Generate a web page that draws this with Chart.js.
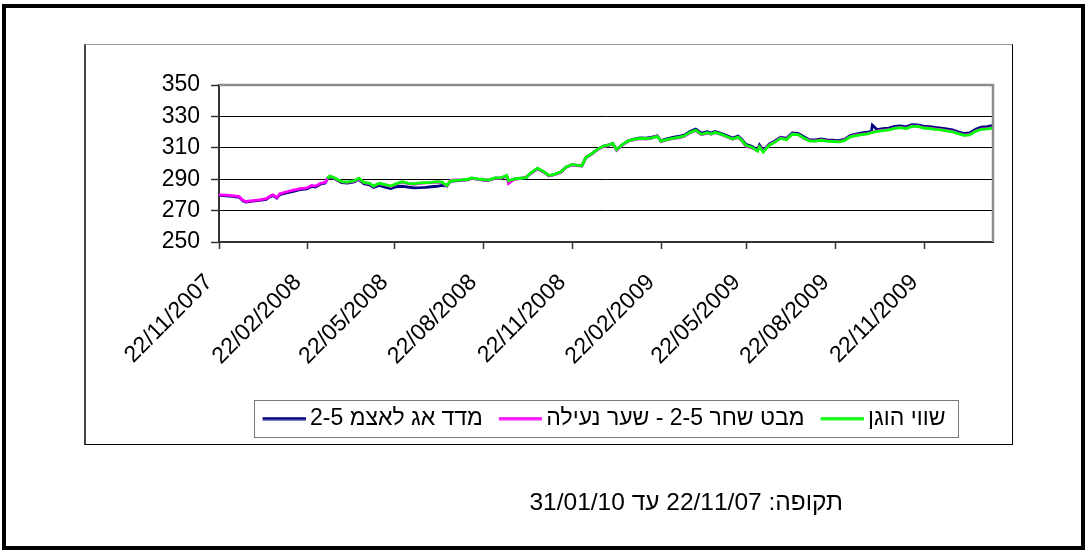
<!DOCTYPE html>
<html><head><meta charset="utf-8">
<script src="https://cdn.jsdelivr.net/npm/chart.js@4.4.1/dist/chart.umd.min.js"></script>
<style>
html,body{margin:0;padding:0;background:#fff;}
body{width:1087px;height:550px;position:relative;overflow:hidden;font-family:"Liberation Sans",Arial,sans-serif;}
#outer{position:absolute;left:2px;top:4px;width:1083px;height:546px;border:4px solid #000;box-sizing:border-box;}
#inner{position:absolute;left:84px;top:44px;width:929px;height:401px;box-sizing:border-box;border-left:2px solid #444;border-top:1px solid #999;border-right:1px solid #000;border-bottom:1px solid #000;}
#c{position:absolute;left:0;top:0;}
#footer{position:absolute;right:244px;top:488px;font-size:24.5px;line-height:28px;direction:rtl;color:#000;white-space:nowrap;}
</style></head>
<body>
<div id="outer"></div><div id="inner"></div>
<canvas id="c" width="1087" height="550"></canvas>
<div id="footer" dir="rtl">תקופה: 22/11/07 עד 31/01/10</div>
<script>
const seriesNames = ["מדד אג לאצמ 2-5", "מבט שחר 2-5 - שער נעילה", "שווי הוגן"];
const tickLabels = ["22/11/2007","22/02/2008","22/05/2008","22/08/2008","22/11/2008","22/02/2009","22/05/2009","22/08/2009","22/11/2009"];
const dates = [
"22/11/2007","29/11/2007","06/12/2007","13/12/2007","17/12/2007","20/12/2007","27/12/2007","03/01/2008","10/01/2008","14/01/2008",
"17/01/2008","21/01/2008","24/01/2008","31/01/2008","07/02/2008","14/02/2008","21/02/2008","26/02/2008","01/03/2008","06/03/2008",
"11/03/2008","13/03/2008","16/03/2008","21/03/2008","28/03/2008","03/04/2008","10/04/2008","15/04/2008","20/04/2008","26/04/2008",
"30/04/2008","06/05/2008","12/05/2008","18/05/2008","24/05/2008","30/05/2008","05/06/2008","11/06/2008","17/06/2008","23/06/2008",
"29/06/2008","05/07/2008","10/07/2008","15/07/2008","19/07/2008","25/07/2008","31/07/2008","05/08/2008","10/08/2008","16/08/2008",
"22/08/2008","28/08/2008","03/09/2008","09/09/2008","15/09/2008","17/09/2008","23/09/2008","29/09/2008","05/10/2008","09/10/2008",
"17/10/2008","23/10/2008","29/10/2008","04/11/2008","10/11/2008","16/11/2008","22/11/2008","28/11/2008","02/12/2008","06/12/2008",
"12/12/2008","18/12/2008","24/12/2008","30/12/2008","03/01/2009","07/01/2009","13/01/2009","19/01/2009","25/01/2009","31/01/2009",
"06/02/2009","12/02/2009","18/02/2009","22/02/2009","28/02/2009","06/03/2009","12/03/2009","18/03/2009","24/03/2009","30/03/2009",
"05/04/2009","11/04/2009","15/04/2009","19/04/2009","25/04/2009","01/05/2009","07/05/2009","13/05/2009","17/05/2009","21/05/2009",
"27/05/2009","02/06/2009","04/06/2009","08/06/2009","14/06/2009","20/06/2009","26/06/2009","02/07/2009","08/07/2009","14/07/2009",
"20/07/2009","26/07/2009","01/08/2009","07/08/2009","13/08/2009","19/08/2009","25/08/2009","31/08/2009","06/09/2009","12/09/2009",
"18/09/2009","24/09/2009","28/09/2009","29/09/2009","04/10/2009","10/10/2009","16/10/2009","22/10/2009","28/10/2009","03/11/2009",
"09/11/2009","15/11/2009","21/11/2009","27/11/2009","03/12/2009","09/12/2009","15/12/2009","21/12/2009","27/12/2009","02/01/2010",
"08/01/2010","14/01/2010","20/01/2010","26/01/2010","31/01/2010"];
const fairValue = [
null,null,null,null,null,null,null,null,null,null,
null,null,null,null,null,null,null,null,null,null,
null,290.5,292.0,290.8,288.5,288.2,289.0,290.6,288.0,287.4,
285.6,287.4,286.6,285.6,287.2,288.4,287.4,287.0,287.6,287.8,
288.0,288.4,288.2,286.0,289.0,289.3,289.6,289.8,290.8,290.2,
289.7,289.6,290.8,290.8,292.4,289.0,290.2,290.6,291.0,293.5,
297.0,295.0,292.3,293.2,294.5,297.8,299.4,298.8,298.6,303.8,
306.2,309.0,311.0,311.8,312.8,308.8,312.0,314.4,315.3,316.0,
315.8,316.2,317.3,314.2,315.2,316.0,316.6,317.5,319.8,321.2,
318.6,319.6,318.8,319.8,318.7,317.2,315.6,316.8,314.5,311.6,
310.4,307.9,310.5,307.3,311.5,313.6,316.0,315.2,318.6,318.4,
316.2,314.2,314.2,314.8,314.2,314.0,313.8,314.6,317.0,317.8,
318.4,318.8,319.6,319.8,320.4,321.0,321.4,322.4,322.8,322.2,
323.6,323.6,322.6,322.3,321.8,321.4,320.8,320.2,319.0,317.9,
318.3,320.5,321.8,322.0,322.6];
const closePrice = [
280.0,279.8,279.5,278.9,276.5,275.8,276.3,276.8,277.6,279.3,
280.0,278.3,280.8,282.0,283.0,284.0,284.4,286.0,285.6,287.4,
288.0,290.3,292.0,290.6,288.3,288.0,288.8,290.4,287.8,287.2,
285.4,287.2,286.4,285.4,287.0,288.2,287.2,286.8,287.4,287.6,
287.8,288.2,288.0,285.6,289.2,289.5,289.4,289.6,290.6,290.0,
289.5,289.4,290.6,290.6,292.2,287.2,290.0,290.4,291.4,293.3,
296.8,294.8,292.1,293.0,294.3,297.6,299.2,298.6,298.4,304.0,
306.0,308.8,310.8,311.6,312.6,308.4,311.8,314.2,315.1,315.8,
315.6,316.0,317.5,314.0,315.0,315.8,316.4,317.3,319.6,321.0,
318.4,319.4,318.6,319.6,318.5,317.0,315.4,316.6,314.3,311.0,
310.0,308.2,310.8,307.8,311.8,313.8,316.2,315.4,318.8,318.6,
316.0,314.6,314.4,315.0,314.4,314.2,314.0,314.8,317.2,318.0,
318.6,319.0,319.8,320.0,320.6,321.2,321.6,322.6,323.0,322.4,
323.8,323.8,322.8,322.5,322.0,321.6,321.0,320.4,319.2,318.1,
318.5,320.7,322.0,322.2,322.8];
const indexValues = [
279.7,279.4,279.1,278.5,276.1,275.4,276.0,276.5,277.2,278.9,
279.6,277.9,280.2,281.3,282.3,283.3,283.8,285.4,285.0,286.8,
287.5,289.9,291.6,290.2,287.8,287.5,288.3,289.9,287.2,286.4,
284.8,286.0,285.0,284.0,285.2,285.5,285.0,284.5,284.6,284.8,
285.2,285.5,286.0,285.8,288.8,289.0,289.4,289.6,290.6,290.0,
289.5,289.4,290.6,290.5,292.0,288.8,290.0,290.5,290.8,293.3,
296.8,294.8,292.2,293.1,294.5,297.8,299.3,298.7,298.5,303.6,
306.0,308.9,310.9,311.8,312.8,308.7,312.0,314.5,315.5,316.3,
316.2,316.6,317.6,314.6,315.7,316.6,317.2,318.1,320.4,321.9,
319.3,320.2,319.4,320.4,319.3,317.8,316.2,317.4,315.1,312.2,
311.0,308.6,311.8,308.2,312.4,314.4,316.8,316.0,319.4,319.2,
317.0,315.0,315.0,315.6,315.0,314.8,314.6,315.4,317.8,318.7,
319.5,319.9,320.6,324.5,321.5,322.2,322.6,323.6,324.0,323.4,
324.8,324.6,323.8,323.5,323.0,322.6,322.0,321.4,320.2,319.1,
319.5,321.8,323.2,323.5,324.2];

const BASE = Date.UTC(2007, 10, 22);
function dayOf(s){ const p = s.split('/'); return Math.round((Date.UTC(+p[2], +p[1]-1, +p[0]) - BASE)/86400000); }
function pts(arr){ return dates.map((d,i)=>({x: dayOf(d), y: arr[i]})); }
function legendLine(color){
  const c = document.createElement('canvas'); c.width = 50; c.height = 4;
  const g = c.getContext('2d'); g.fillStyle = color; g.fillRect(7, 0.5, 43, 3); return c;
}
const tickDays = tickLabels.map(dayOf);
const labelByDay = {}; tickLabels.forEach((t,i)=>{ labelByDay[tickDays[i]] = t; });

Chart.defaults.font.family = '"Liberation Sans", Arial, sans-serif';
Chart.defaults.font.size = 23;
Chart.defaults.color = '#000';

const frame = {
  id: 'frame',
  afterLayout(chart){
    const lg = chart.legend; if(!lg) return;
    const cx = 604, w = lg.width;
    lg.left = cx - w/2; lg.right = cx + w/2;
    lg.top = 391; lg.bottom = lg.top + lg.height;
  },
  beforeDatasetsDraw(chart){
    const a = chart.chartArea, ctx = chart.ctx;
    ctx.save(); ctx.strokeStyle = '#8c8c8c'; ctx.lineWidth = 2.5;
    ctx.beginPath(); ctx.moveTo(a.left, a.top); ctx.lineTo(a.right, a.top); ctx.lineTo(a.right, a.bottom); ctx.stroke();
    ctx.restore();
  },
  afterDraw(chart){
    const lg = chart.legend; if(!lg || !lg.legendHitBoxes) return;
    const hb = lg.legendHitBoxes;
    let l = Infinity, r = -Infinity;
    hb.forEach(b=>{ l = Math.min(l, b.left); r = Math.max(r, b.left + b.width); });
    const ctx = chart.ctx; ctx.save(); ctx.strokeStyle = '#7a7a7a'; ctx.lineWidth = 1;
    ctx.strokeRect(Math.round(l - 9) + 0.5, 400.5, Math.round(r + 12 - (l - 9)), 37);
    ctx.restore();
  }
};

new Chart(document.getElementById('c'), {
  type: 'line',
  data: {
    datasets: [
      {label: seriesNames[0], data: pts(indexValues), borderColor: '#000080', backgroundColor: '#000080', borderWidth: 2.8, pointRadius: 0, pointStyle: legendLine('#000080'), order: 3, tension: 0},
      {label: seriesNames[1], data: pts(closePrice), borderColor: '#ff00ff', backgroundColor: '#ff00ff', borderWidth: 2.8, pointRadius: 0, pointStyle: legendLine('#ff00ff'), order: 2, tension: 0},
      {label: seriesNames[2], data: pts(fairValue), borderColor: '#00ff00', backgroundColor: '#00ff00', borderWidth: 2.8, pointRadius: 0, pointStyle: legendLine('#00ff00'), order: 1, tension: 0}
    ]
  },
  options: {
    responsive: false, animation: false, events: [],
    layout: {padding: {top: 85, right: 94, bottom: 129, left: 0}},
    plugins: {
      tooltip: {enabled: false},
      title: {display: false},
      legend: {
        position: 'bottom',
        textDirection: 'rtl',
        labels: {
          usePointStyle: true, pointStyleWidth: 36, padding: 16, color: '#000',
          font: {size: 23},
          sort: (a, b) => a.datasetIndex - b.datasetIndex
        }
      }
    },
    scales: {
      x: {
        type: 'linear', min: 0, max: dayOf('01/02/2010'),
        afterBuildTicks: (s) => { s.ticks = tickDays.map(v => ({value: v})); },
        afterFit: (s) => { s.height = 130; },
        grid: {drawOnChartArea: false, drawTicks: true, tickLength: 7, tickColor: '#333', tickWidth: 1.5},
        border: {color: '#333', width: 2},
        ticks: {autoSkip: false, minRotation: 45, maxRotation: 45, padding: 20, labelOffset: -10, color: '#000',
          callback: (v) => labelByDay[v] || ''}
      },
      y: {
        min: 250, max: 350,
        afterFit: (s) => { s.width = 219; },
        grid: {color: (c) => (c.tick && (c.tick.value === 250 || c.tick.value === 350)) ? 'rgba(0,0,0,0)' : '#000', lineWidth: 1, tickLength: 8, tickColor: '#333', tickWidth: 1.5},
        border: {color: '#333', width: 2},
        ticks: {stepSize: 20, padding: 11, color: '#000'}
      }
    }
  },
  plugins: [frame]
});
</script>
</body></html>
